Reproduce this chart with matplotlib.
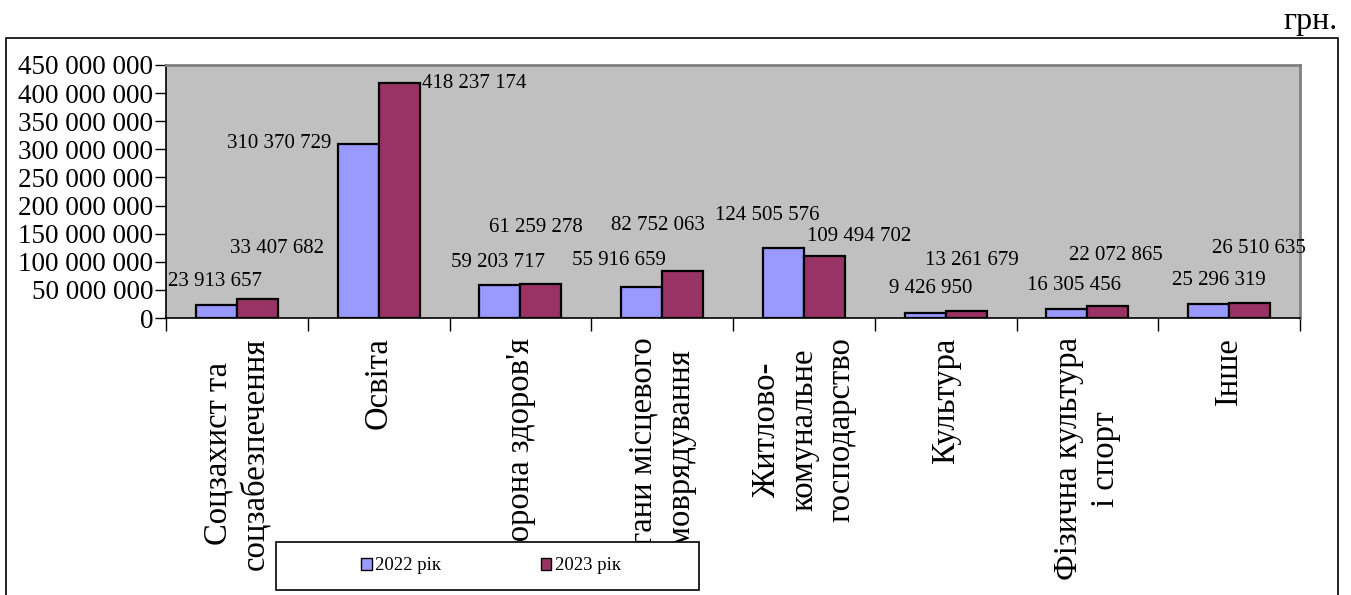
import matplotlib
matplotlib.use("Agg")
import matplotlib.pyplot as plt
from matplotlib.patches import Rectangle, Patch
from matplotlib.ticker import FixedLocator, FuncFormatter
import numpy as np

plt.rcParams['font.family'] = ['Liberation Serif', 'DejaVu Serif']

categories = ["Соцзахист та\nсоцзабезпечення", "Освіта", "Охорона здоров'я",
              "Органи місцевого\nсамоврядування", "Житлово-\nкомунальне\nгосподарство",
              "Культура", "Фізична культура\nі спорт", "Інше"]
values_2022 = [23913657, 310370729, 59203717, 55916659, 124505576, 9426950, 16305456, 25296319]
values_2023 = [33407682, 418237174, 61259278, 82752063, 109494702, 13261679, 22072865, 26510635]
series_names = ["2022 рік", "2023 рік"]

# label offsets (pixels) from the top centre of each bar, as placed in the original
offsets_2022 = [(-1, 23), (-79, 0), (-2, 22), (-23, 26), (-16, 33), (6, 24), (7, 23), (10, 23)]
offsets_2023 = [(20, 51), (75, -1), (-5, 56), (-25, 46), (35, 20), (6, 50), (8, 50), (9, 55)]

col_2022 = "#9999FF"
col_2023 = "#993366"

W, H = 1351, 595
fig = plt.figure(figsize=(W / 100, H / 100), dpi=100)
ax = fig.add_axes([166 / W, 1 - 318 / H, (1300 - 166) / W, (318 - 65) / H])
ax.set_facecolor("#C0C0C0")

x = np.arange(len(categories))
bw = 0.29
ax.bar(x - bw / 2, values_2022, bw, color=col_2022, edgecolor="black", linewidth=1.6)
ax.bar(x + bw / 2, values_2023, bw, color=col_2023, edgecolor="black", linewidth=1.6)

fmt = lambda v: f"{int(v):,}".replace(",", " ")

for xs, vals, offs in [(x - bw / 2, values_2022, offsets_2022), (x + bw / 2, values_2023, offsets_2023)]:
    for xi, v, (dx, dy) in zip(xs, vals, offs):
        ax.annotate(fmt(v), (xi, v), xytext=(dx, dy), textcoords="offset pixels",
                    ha="center", va="center", fontsize=15, annotation_clip=False)

ax.set_xlim(-0.5, len(categories) - 0.5)
ax.set_ylim(0, 450000000)
ax.set_yticks(np.arange(0, 450000001, 50000000))
ax.yaxis.set_major_formatter(FuncFormatter(lambda v, p: fmt(v)))
ax.tick_params(axis="y", labelsize=19.5, length=8, width=1, direction="out", pad=1)

ax.xaxis.set_major_locator(FixedLocator(np.arange(-0.5, len(categories), 1.0)))
ax.xaxis.set_minor_locator(FixedLocator(x))
ax.set_xticklabels([])
ax.set_xticklabels(categories, minor=True, rotation=90, fontsize=23.5,
                   ha="center", va="top", multialignment="center", linespacing=1.3)
ax.tick_params(axis="x", which="major", length=9, width=1, direction="out")
ax.tick_params(axis="x", which="minor", length=0, pad=14)

for s in ["left", "bottom"]:
    ax.spines[s].set_color("black")
    ax.spines[s].set_linewidth(1.2)
for s in ["top", "right"]:
    ax.spines[s].set_color("#808080")
    ax.spines[s].set_linewidth(2)

# outer chart frame
fig.patches.append(Rectangle((6 / W, -0.05), (1338 - 6) / W, 0.05 + 1 - 38 / H,
                             transform=fig.transFigure, fill=False, edgecolor="black",
                             linewidth=1.2, clip_on=False))

# legend box (drawn over the category labels, as in the original)
fig.patches.append(Rectangle((276 / W, 1 - 590 / H), (699 - 276) / W, (590 - 542) / H,
                             transform=fig.transFigure, facecolor="white", edgecolor="black",
                             linewidth=1.2, zorder=5))
handles = [Patch(facecolor=col_2022, edgecolor="black"), Patch(facecolor=col_2023, edgecolor="black")]
leg = fig.legend(handles, series_names, loc="center", bbox_to_anchor=(491 / W, 1 - 566 / H),
                 ncol=2, frameon=False, fontsize=13.5, handlelength=0.55, handleheight=0.55,
                 handletextpad=0.2, columnspacing=5.3)
leg.set_zorder(6)

fig.text(1338 / W, 1 - 22 / H, "грн.", ha="right", va="center", fontsize=23)

fig.savefig("out.png", dpi=100)
